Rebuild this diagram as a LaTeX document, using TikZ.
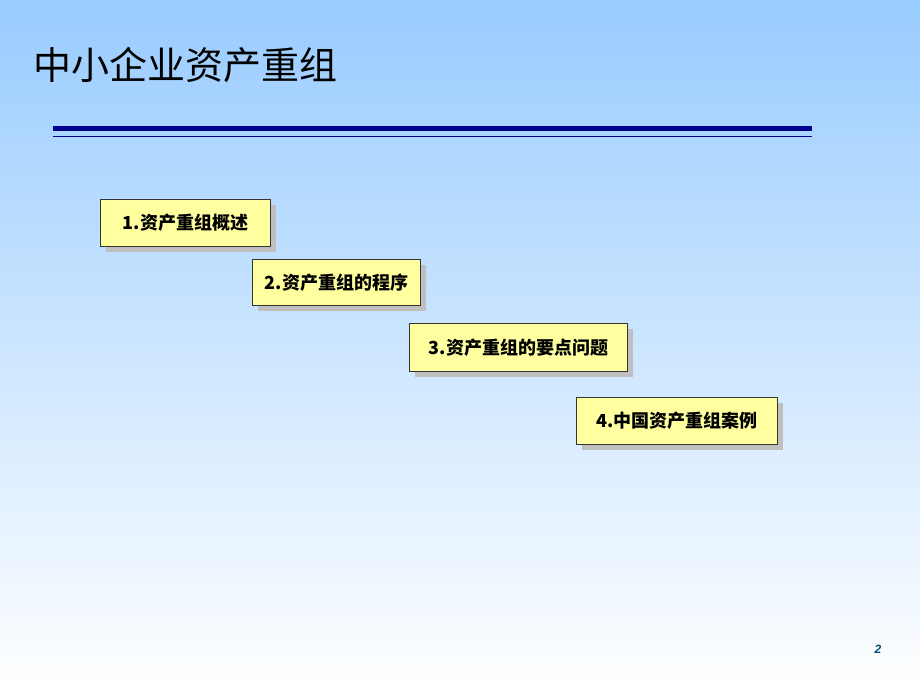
\documentclass[tikz,border=0pt]{standalone}
\usepackage{fontspec}
\setmainfont{Liberation Serif}
\newfontfamily\cjk{Noto Sans CJK SC}
\newfontfamily\arialf{Liberation Sans}
\begin{document}
\begin{tikzpicture}[x=1pt,y=-1pt,
  item/.style={draw=black!80,line width=0.8pt,fill={rgb,255:red,255;green,255;blue,160},inner sep=0pt,font=\bfseries\fontsize{18}{20}\selectfont\cjk,anchor=north west},
  shadowbox/.style={fill=black!25,draw=none}]
\shade[top color={rgb,255:red,153;green,204;blue,255},bottom color=white] (0,0) rectangle (920,690);
\useasboundingbox (0,0) rectangle (920,690);
\node[anchor=west,font=\fontsize{38}{42}\selectfont\cjk] (title) at (30,65) {中小企业资产重组};
\fill[blue!55!black] (53,126) rectangle (812,131);
\draw[blue!55!black,line width=0.8pt] (53,136) -- (812,136);
\foreach \n/\x/\y/\w/\h/\t in {a/100/199/170/47/1.资产重组概述, b/252/259/168/46/2.资产重组的程序, c/409/323/218/48/3.资产重组的要点问题, d/576/397/201/47/4.中国资产重组案例}{
  \fill[shadowbox] (\x+6,\y+6) rectangle (\x+\w+6,\y+\h+6);
  \node[item,minimum width=\w pt,minimum height=\h pt] (\n) at (\x,\y) {\t};
}
\node[font=\bfseries\itshape\fontsize{12}{14}\selectfont\arialf,text={rgb,255:red,0;green,80;blue,110}] (pg) at (878,649) {2};
\end{tikzpicture}
\end{document}
